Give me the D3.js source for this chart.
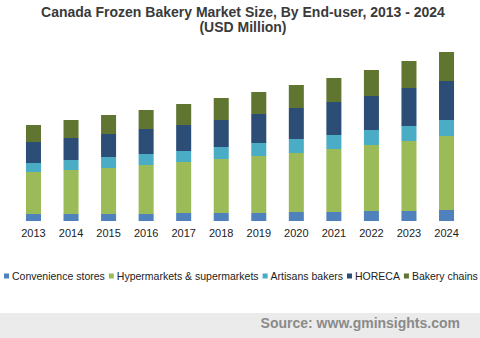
<!DOCTYPE html>
<html>
<head>
<meta charset="utf-8">
<script src="https://cdn.jsdelivr.net/npm/d3@7"></script>
<style>
  body { margin: 0; background: #fff; }
  svg { display: block; font-family: "Liberation Sans", Arial, sans-serif; }
</style>
</head>
<body>
<div id="chart"></div>
<script>
// values (no y axis shown, units are relative)
var years = ["2013", "2014", "2015", "2016", "2017", "2018", "2019", "2020", "2021", "2022", "2023", "2024"];
var convenience = [7, 7, 7, 7, 8, 8, 8, 9, 9, 10, 10, 11];
var hypermarkets = [42, 44, 46, 49, 51, 54, 57, 59, 63, 66, 70, 74];
var artisans = [9, 10, 11, 11, 11, 12, 13, 14, 14, 15, 15, 16];
var horeca = [21, 22, 23, 25, 26, 27, 29, 31, 33, 34, 38, 39];
var bakeryChains = [17, 18, 19, 19, 21, 22, 22, 23, 24, 26, 27, 29];

var seriesNames = ["Convenience stores", "Hypermarkets & supermarkets", "Artisans bakers", "HORECA", "Bakery chains"];
var colors = ["#4f81bd", "#9bbb59", "#4bacc6", "#2c4d75", "#5f7530"];

var width = 480, height = 338;

var svg = d3.select("#chart").append("svg")
    .attr("width", width)
    .attr("height", height);

// title
svg.append("text")
    .attr("x", 243).attr("y", 17)
    .attr("text-anchor", "middle")
    .style("font-size", "14px").style("font-weight", "bold").style("fill", "#3a3a3a")
    .text("Canada Frozen Bakery Market Size, By End-user, 2013 - 2024");
svg.append("text")
    .attr("x", 243).attr("y", 31.5)
    .attr("text-anchor", "middle")
    .style("font-size", "14px").style("font-weight", "bold").style("fill", "#3a3a3a")
    .text("(USD Million)");

var keys = ["convenience", "hypermarkets", "artisans", "horeca", "bakeryChains"];
var table = years.map(function(y, i) {
  return {
    year: y,
    convenience: convenience[i],
    hypermarkets: hypermarkets[i],
    artisans: artisans[i],
    horeca: horeca[i],
    bakeryChains: bakeryChains[i]
  };
});

var stack = d3.stack().keys(keys)(table);

var xScale = d3.scaleBand()
    .domain(years)
    .range([14.7, 465.3])
    .paddingInner(0.6)
    .paddingOuter(0.3);

var yScale = d3.scaleLinear()
    .domain([0, 169])
    .range([221, 52]);

svg.selectAll(".layer")
    .data(stack)
    .enter().append("g")
    .attr("class", "layer")
    .style("fill", function(d, i) { return colors[i]; })
    .selectAll("rect")
    .data(function(d) { return d; })
    .enter().append("rect")
    .attr("x", function(d) { return xScale(d.data.year); })
    .attr("width", xScale.bandwidth())
    .attr("y", function(d) { return yScale(d[1]); })
    .attr("height", function(d) { return yScale(d[0]) - yScale(d[1]); });

// x axis, labels only
var xAxis = svg.append("g")
    .attr("transform", "translate(0,221)")
    .call(d3.axisBottom(xScale).tickSize(0).tickPadding(8));
xAxis.select(".domain").remove();
xAxis.selectAll("text")
    .style("font-family", "Liberation Sans, Arial, sans-serif")
    .style("font-size", "11px")
    .style("fill", "#222");

// legend
var legend = svg.append("g").attr("transform", "translate(4,276)");
var lx = 0;
seriesNames.forEach(function(name, i) {
  var item = legend.append("g").attr("transform", "translate(" + lx + ",0)");
  item.append("rect")
    .attr("x", 0).attr("y", -2.5)
    .attr("width", 5).attr("height", 5)
    .style("fill", colors[i]);
  var t = item.append("text")
    .attr("x", 8).attr("y", 4)
    .style("font-size", "10.5px")
    .style("fill", "#222")
    .text(name);
  lx += 8 + t.node().getComputedTextLength() + 4;
});

// source footer
svg.append("rect")
    .attr("x", 0).attr("y", 313)
    .attr("width", width).attr("height", 25)
    .style("fill", "#ebebeb");
svg.append("text")
    .attr("x", 460).attr("y", 328)
    .attr("text-anchor", "end")
    .style("font-size", "14px").style("font-weight", "bold").style("fill", "#8a8a8a")
    .text("Source: www.gminsights.com");
</script>
</body>
</html>
